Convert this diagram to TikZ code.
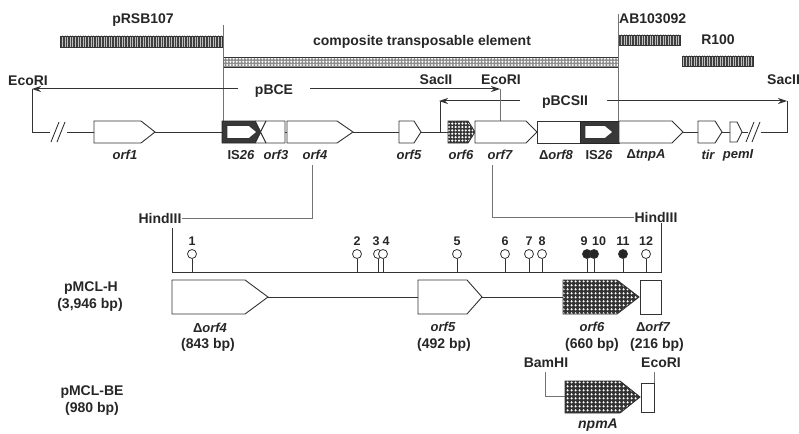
\documentclass[tikz,border=0pt]{standalone}
\usepackage{fontspec}
\setmainfont{Liberation Sans}
\usetikzlibrary{arrows.meta,patterns.meta}
\begin{document}
\begin{tikzpicture}[x=1pt,y=-1pt,
  lab/.style={font=\bfseries\fontsize{14}{16}\selectfont,text=black!85,inner sep=0pt},
  glab/.style={font=\bfseries\itshape\fontsize{13}{15}\selectfont,text=black!85,inner sep=0pt},
  num/.style={font=\bfseries\fontsize{12.5}{14}\selectfont,text=black!85,inner sep=0pt},
  ln/.style={line width=0.9pt,draw=black!80},
  thin/.style={line width=0.5pt,draw=black!55},
  gene/.style={line width=0.9pt,draw=black!80,fill=white},
  isbox/.style={line width=0.9pt,draw=black!85,fill=black!78},
  darr/.style={line width=1pt,draw=black!80,-{Stealth[length=9pt,width=6pt]}},
  pop/.style={line width=0.8pt,draw=black!80,fill=white},
  popf/.style={line width=0.8pt,draw=black!80,fill=black!85}
]
\useasboundingbox (0,0) rectangle (799,433);

% ---------- top bars ----------
\node[lab] (prsb) at (143,20) {pRSB107};
\fill[black!75] (60,36) rectangle (222,47);
\path[pattern={Lines[angle=90,distance=2.6pt,line width=1pt]},pattern color=black!25] (60,36) rectangle (222,47);
\draw[line width=0.8pt,black!80] (60,36) rectangle (222,47);

\node[lab] (cte) at (422,42) {composite transposable element};
\fill[black!45] (223,57) rectangle (618,67);
\path[pattern={Dots[distance=3.2pt,radius=1.15pt]},pattern color=white] (223,57) rectangle (618,67);
\draw[line width=0.8pt,black!80] (223,57) rectangle (618,67);

\node[lab,anchor=west] (ab) at (619,19) {AB103092};
\fill[black!75] (618,35) rectangle (680,45);
\path[pattern={Lines[angle=90,distance=2.6pt,line width=1pt]},pattern color=black!25] (618,35) rectangle (680,45);
\draw[line width=0.8pt,black!80] (618,35) rectangle (680,45);

\node[lab] (r100) at (718,40) {R100};
\fill[black!75] (682,56) rectangle (753,66);
\path[pattern={Lines[angle=90,distance=2.6pt,line width=1pt]},pattern color=black!25] (682,56) rectangle (753,66);
\draw[line width=0.8pt,black!80] (682,56) rectangle (753,66);

% thin boundary lines
\coordinate (bl) at (223,25);
\coordinate (br) at (618,14);
\draw[thin] (bl) -- (223,121);
\draw[thin] (br) -- (618,121);

% ---------- restriction fragments ----------
\node[lab] (ecoL) at (28,81) {EcoRI};
\node[lab] (pbce) at (274,91) {pBCE};
\node[lab] (sac1) at (436,80) {SacII};
\node[lab] (ecoM) at (501,80) {EcoRI};
\node[lab] (pbcs) at (565,102) {pBCSII};
\node[lab,anchor=west] (sac2) at (767,80) {SacII};

\coordinate (eL) at (32,89);
\coordinate (eR) at (500,89);
\draw[darr] (238,89) -- (eL);
\draw[darr] (310,89) -- (eR);
\coordinate (sL) at (439,101);
\coordinate (sR) at (787,101);
\draw[darr] (520,101) -- (sL);
\draw[darr] (607,101) -- (sR);

\draw[ln] (32,89) -- (32,132) -- (50,132);
\draw[ln] (67,132) -- (94,132);
\draw[ln] (155,132) -- (222,132);
\draw[ln] (285,132) -- (287,132);
\draw[ln] (353,132) -- (399,132);
\draw[ln] (421,132) -- (448,132);
\draw[ln] (683,132) -- (698,132);
\draw[ln] (722,132) -- (730,132);
\draw[ln] (742,132) -- (748,132);
\draw[ln] (761,132) -- (787,132) -- (787,101);
\draw[ln] (440,101) -- (440,132);
\draw[thin,line width=0.7pt] (500,89) -- (500,121);
% break marks
\draw[ln] (51,142) -- (59,122);
\draw[ln] (57,142) -- (65,122);
\draw[ln] (746,142) -- (754,122);
\draw[ln] (752,142) -- (760,122);

% ---------- genes, top row ----------
\draw[gene] (94,121) -- (141,121) -- (155,132) -- (141,143) -- (94,143) -- cycle;
% IS26 left
\draw[isbox] (222,121) -- (255,121) -- (260.5,132) -- (255,143) -- (222,143) -- cycle;
\draw[gene] (227,125.5) -- (249,125.5) -- (257,132) -- (249,138.5) -- (227,138.5) -- cycle;
\draw[ln] (255,121) -- (266,143) (255,143) -- (266,121) (255,121) -- (266,121) (255,143) -- (266,143);
\draw[gene] (266,121) -- (285,121) -- (285,143) -- (266,143) -- (260.5,132) -- cycle;
\draw[gene] (287,121) -- (337,121) -- (353,132) -- (337,143) -- (287,143) -- cycle;
\draw[gene] (399,121) -- (414,121) -- (421,132) -- (414,143) -- (399,143) -- cycle;
% orf6
\fill[black!80] (448,121) -- (468,121) -- (475,132) -- (468,143) -- (448,143) -- cycle;
\path[pattern={Dots[distance=3.4pt,radius=1.2pt]},pattern color=white] (448,121) -- (468,121) -- (475,132) -- (468,143) -- (448,143) -- cycle;
\draw[line width=0.9pt,black!80] (448,121) -- (468,121) -- (475,132) -- (468,143) -- (448,143) -- cycle;
\draw[gene] (475,121) -- (526,121) -- (537,132) -- (526,143) -- (475,143) -- cycle;
\draw[gene] (537,121) rectangle (580,143);
\draw[isbox] (580,121) rectangle (619,143);
\draw[gene] (585,125.5) -- (605,125.5) -- (613,132) -- (605,138.5) -- (585,138.5) -- cycle;
\draw[gene] (619,121) -- (672,121) -- (683,132) -- (672,143) -- (619,143) -- cycle;
\draw[gene] (698,121) -- (715,121) -- (722,132) -- (715,143) -- (698,143) -- cycle;
\draw[gene] (730,122) -- (737,122) -- (742,132) -- (737,142) -- (730,142) -- cycle;

% gene labels
\node[glab] (g1) at (125,155) {orf1};
\node[glab,font=\bfseries\fontsize{13}{15}\selectfont] (g2) at (241,155) {IS\textit{26}};
\node[glab] (g3) at (276,155) {orf3};
\node[glab] (g4) at (315,155) {orf4};
\node[glab] (g5) at (409,155) {orf5};
\node[glab] (g6) at (461,155) {orf6};
\node[glab] (g7) at (500,155) {orf7};
\node[glab] (g8) at (556,155) {\textup{Δ}orf8};
\node[glab,font=\bfseries\fontsize{13}{15}\selectfont] (g9) at (599,155) {IS\textit{26}};
\node[glab] (g10) at (646,155) {\textup{Δ}tnpA};
\node[glab] (g11) at (708,155) {tir};
\node[glab] (g12) at (738,155) {pemI};

% ---------- HindIII connectors ----------
\node[lab] (h1) at (160,218) {HindIII};
\node[lab] (h2) at (656,217) {HindIII};
\draw[thin,line width=0.7pt] (312,165) -- (312,218) -- (h1.east);
\draw[thin,line width=0.7pt] (492,165) -- (492,217) -- (h2.west);

% ---------- pMCL-H ----------
\node[lab] (mh) at (91,288) {pMCL-H};
\node[lab] (mhs) at (90,305) {(3,946 bp)};
\draw[ln,line width=0.8pt] (172,228) -- (172,272) -- (661,272) -- (661,223);

% lollipops
\foreach \x in {192,357,378,383,457,505,529,542,646}{
  \draw[ln,line width=0.8pt] (\x,272) -- (\x,258.5);
  \draw[pop] (\x,254) circle (4.5);
}
\foreach \x in {587,594,623}{
  \draw[ln,line width=0.8pt] (\x,272) -- (\x,258.5);
  \draw[popf] (\x,254) circle (4.5);
}
\foreach \x/\n in {192/1,357/2,457/5,505/6,529/7,542/8,623/11,646/12}{
  \node[num] at (\x,241) {\n};
}
\node[num] at (376,241) {3};
\node[num] at (386,241) {4};
\node[num] at (584,241) {9};
\node[num] at (599,241) {10};

% lower genes
\draw[gene] (172,280) -- (245,280) -- (268,297) -- (245,314) -- (172,314) -- cycle;
\draw[ln] (268,297) -- (418,297);
\draw[gene] (418,280) -- (467,280) -- (482,297) -- (467,314) -- (418,314) -- cycle;
\draw[ln] (482,297) -- (563,297);
\fill[black!80] (563,280) -- (617,280) -- (639,297) -- (617,314) -- (563,314) -- cycle;
\path[pattern={Dots[distance=4pt,radius=1.5pt]},pattern color=white] (563,280) -- (617,280) -- (639,297) -- (617,314) -- (563,314) -- cycle;
\draw[line width=0.9pt,black!80] (563,280) -- (617,280) -- (639,297) -- (617,314) -- (563,314) -- cycle;
\draw[gene] (640,280) rectangle (661,314);

\node[glab] (d4) at (210,328) {\textup{Δ}orf4};
\node[lab] (d4s) at (208,345) {(843 bp)};
\node[glab] (o5) at (443,327) {orf5};
\node[lab] (o5s) at (444,345) {(492 bp)};
\node[glab] (o6) at (592,327) {orf6};
\node[lab] (o6s) at (592,345) {(660 bp)};
\node[glab] (d7) at (653,327) {\textup{Δ}orf7};
\node[lab] (d7s) at (657,345) {(216 bp)};

% ---------- pMCL-BE ----------
\node[lab] (mbe) at (92,392) {pMCL-BE};
\node[lab] (mbes) at (92,409) {(980 bp)};
\node[lab] (bam) at (546,363) {BamHI};
\node[lab] (ecoB) at (661,363) {EcoRI};
\draw[thin,line width=0.7pt] (545,372) -- (545,396) -- (565,396);
\draw[thin,line width=0.7pt] (654,372) -- (654,383);
\fill[black!80] (565,381) -- (620,381) -- (640,397) -- (620,413) -- (565,413) -- cycle;
\path[pattern={Dots[distance=4pt,radius=1.5pt]},pattern color=white] (565,381) -- (620,381) -- (640,397) -- (620,413) -- (565,413) -- cycle;
\draw[line width=0.9pt,black!80] (565,381) -- (620,381) -- (640,397) -- (620,413) -- (565,413) -- cycle;
\draw[gene] (641,383) rectangle (654,412);
\node[glab,font=\bfseries\itshape\fontsize{14}{16}\selectfont,anchor=base] (npm) at (598,428) {npmA};
\end{tikzpicture}
\end{document}
